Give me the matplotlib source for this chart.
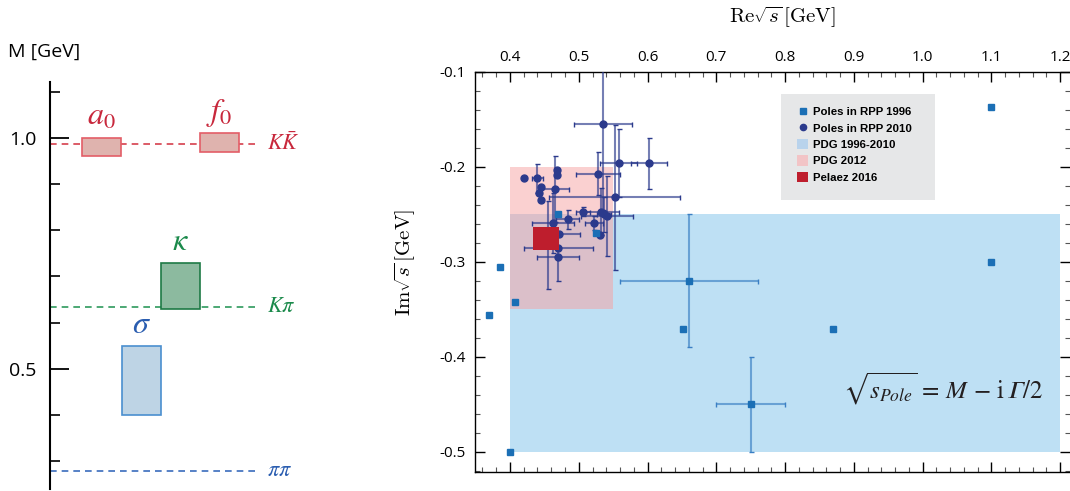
import matplotlib
matplotlib.use("Agg")
import matplotlib.pyplot as plt
from matplotlib.patches import Rectangle, Patch
from matplotlib.lines import Line2D
from matplotlib.ticker import MultipleLocator, FormatStrFormatter

plt.rcParams["font.family"] = ["Open Sans", "DejaVu Sans"]
plt.rcParams["axes.unicode_minus"] = False

# ---- left panel: light scalar nonet masses ----
res_names = [r"$a_0$", r"$f_0$", r"$\kappa$", r"$\sigma$"]
res_m_lo = [0.96, 0.97, 0.63, 0.40]
res_m_hi = [1.00, 1.01, 0.73, 0.55]
thr_names = [r"$K\bar{K}$", r"$K\pi$", r"$\pi\pi$"]
thr_mass = [0.987, 0.634, 0.279]

# ---- right panel: sigma pole positions ----
rpp96_re = [0.370, 0.386, 0.408, 0.400, 0.470, 0.525, 0.651, 0.870, 1.100, 1.100, 0.660, 0.750]
rpp96_im = [-0.356, -0.305, -0.342, -0.500, -0.250, -0.269, -0.371, -0.371, -0.300, -0.137, -0.320, -0.450]
rpp96_dre = [0, 0, 0, 0, 0, 0, 0, 0, 0, 0, 0.10, 0.05]
rpp96_dim = [0, 0, 0, 0, 0, 0, 0, 0, 0, 0, 0.07, 0.05]

rpp10_re = [0.420, 0.440, 0.469, 0.469, 0.4655, 0.445, 0.442, 0.445, 0.535, 0.558, 0.602,
            0.528, 0.552, 0.506, 0.484, 0.4626, 0.472, 0.470, 0.470, 0.455, 0.5227,
            0.531, 0.533, 0.537, 0.541]
rpp10_im = [-0.212, -0.212, -0.203, -0.208, -0.223, -0.221, -0.227, -0.235, -0.155, -0.196, -0.196,
            -0.207, -0.232, -0.247, -0.255, -0.259, -0.271, -0.295, -0.285, -0.282, -0.259,
            -0.272, -0.247, -0.250, -0.252]
rpp10_dre = [0, 0.008, 0, 0, 0.02, 0, 0, 0, 0.042, 0.027, 0.026,
             0.032, 0.095, 0.01, 0.0165, 0.03, 0.03, 0.03, 0.05, 0, 0.013,
             0, 0.025, 0.01, 0.038]
rpp10_dim = [0, 0.015, 0, 0, 0.035, 0, 0, 0, 0.09, 0.036, 0.027,
             0.023, 0.076, 0.005, 0.01, 0.032, 0, 0.025, 0, 0.046, 0.007,
             0, 0.025, 0.018, 0.042]

pdg_old = (0.40, 1.20, -0.50, -0.25)   # re_lo, re_hi, im_lo, im_hi
pdg_2012 = (0.40, 0.55, -0.35, -0.20)
pelaez_2016 = (0.433, 0.471, -0.287, -0.263)

legend_labels = ["Poles in RPP 1996", "Poles in RPP 2010", "PDG 1996-2010", "PDG 2012", "Pelaez 2016"]

c96 = "#1b6fb5"
c10 = "#2b3a8c"
c_blue = "#bee0f4"
c_pink = "#fad0d0"
c_mix = "#dbbfc9"
c_red = "#be1e2d"

W, H = 1070, 491
fig = plt.figure(figsize=(W / 100, H / 100), dpi=100)

# left panel
ax1 = fig.add_axes([50 / W, 2 / H, 350 / W, 407 / H])
ax1.set_xlim(0, 350)
ax1.set_ylim(0.240, 1.121)
for s in ["top", "right", "bottom"]:
    ax1.spines[s].set_visible(False)
ax1.spines["left"].set_linewidth(1.5)
ax1.set_xticks([])
ax1.yaxis.set_major_locator(MultipleLocator(0.5))
ax1.yaxis.set_minor_locator(MultipleLocator(0.1))
ax1.yaxis.set_major_formatter(FormatStrFormatter("%.1f"))
ax1.tick_params(axis="y", which="major", direction="in", length=13.5, width=1.3, labelsize=14, pad=10)
ax1.tick_params(axis="y", which="minor", direction="in", length=7, width=1.2)

box_x = [32, 150, 111, 72]
box_w = 39
box_face = ["#dfb3ae", "#dfb3ae", "#8cba9f", "#bed4e5"]
box_edge = ["#e35d67", "#e35d67", "#1e7a45", "#4a8fcf"]
lab_col = ["#c8283c", "#c8283c", "#1b8a4b", "#2a5db0"]
for i in range(len(res_names)):
    ax1.add_patch(Rectangle((box_x[i], res_m_lo[i]), box_w, res_m_hi[i] - res_m_lo[i],
                            facecolor=box_face[i], edgecolor=box_edge[i], lw=1.2, zorder=3))
    ax1.text(box_x[i] + box_w / 2, res_m_hi[i] + 0.028, res_names[i], color=lab_col[i],
             fontsize=23, ha="center", va="baseline", math_fontfamily="stix")

thr_col = ["#d6404d", "#2e9a5c", "#3a6cbc"]
thr_txt = ["#c8283c", "#1b8a4b", "#2a5db0"]
for i in range(len(thr_names)):
    ax1.plot([0, 207], [thr_mass[i]] * 2, color=thr_col[i], lw=1.2, ls=(0, (4, 3)), zorder=2)
    ax1.text(217, thr_mass[i], thr_names[i], color=thr_txt[i], fontsize=16,
             ha="left", va="center", math_fontfamily="stix")

fig.text(8 / W, 1 - 52 / H, "M [GeV]", fontsize=14, ha="left", va="center")

# right panel
ax2 = fig.add_axes([475 / W, 19 / H, 595 / W, 400 / H])
ax2.set_xlim(0.3491, 1.2145)
ax2.set_ylim(-0.5211, -0.1)
ax2.spines["right"].set_visible(False)
for s in ["top", "bottom", "left"]:
    ax2.spines[s].set_linewidth(1.0)
ax2.xaxis.set_major_locator(MultipleLocator(0.1))
ax2.xaxis.set_minor_locator(MultipleLocator(0.02))
ax2.yaxis.set_major_locator(MultipleLocator(0.1))
ax2.yaxis.set_minor_locator(MultipleLocator(0.02))
ax2.xaxis.set_major_formatter(FormatStrFormatter("%.1f"))
ax2.yaxis.set_major_formatter(FormatStrFormatter("%.1f"))
ax2.tick_params(which="both", direction="in", top=True, bottom=True, left=True, right=True,
                labeltop=True, labelbottom=False, labelsize=11)
ax2.tick_params(which="major", length=7, width=1.0)
ax2.tick_params(which="minor", length=3.5, width=0.8, color="#555555")
ax2.tick_params(axis="x", pad=5)
ax2.tick_params(axis="y", pad=7)

def region(r, color, z):
    ax2.add_patch(Rectangle((r[0], r[2]), r[1] - r[0], r[3] - r[2], facecolor=color,
                            edgecolor="none", zorder=z))

region(pdg_old, c_blue, 1)
region(pdg_2012, c_pink, 1.1)
overlap = (max(pdg_old[0], pdg_2012[0]), min(pdg_old[1], pdg_2012[1]),
           max(pdg_old[2], pdg_2012[2]), min(pdg_old[3], pdg_2012[3]))
region(overlap, c_mix, 1.2)

ax2.errorbar(rpp10_re, rpp10_im, xerr=rpp10_dre, yerr=rpp10_dim, fmt="o", ms=5,
             color=c10, ecolor=c10, elinewidth=1.5, capsize=1.8, capthick=1.0, zorder=3)
ax2.errorbar(rpp96_re, rpp96_im, xerr=rpp96_dre, yerr=rpp96_dim, fmt="s", ms=4.2,
             color=c96, ecolor="#3a7fc4", elinewidth=1.5, capsize=1.8, capthick=1.0, zorder=3.5)
for coll in ax2.collections:
    coll.set_alpha(0.65)

region(pelaez_2016, c_red, 4)

# legend box
ax2.add_patch(Rectangle((0.794, -0.235), 0.224, 0.112, facecolor="#e6e7e8",
                        edgecolor="none", zorder=5))
handles = [Line2D([], [], ls="none", marker="s", ms=4, color=c96),
           Line2D([], [], ls="none", marker="o", ms=4.5, color=c10),
           Patch(facecolor="#b9d3ec"), Patch(facecolor="#f2c4c6"), Patch(facecolor=c_red)]
leg = ax2.legend(handles, legend_labels, loc="upper left", bbox_to_anchor=(0.541, 0.914),
                 frameon=False, borderpad=0, borderaxespad=0, handlelength=1.0,
                 handleheight=1.0, handletextpad=0.4, labelspacing=0.47,
                 prop={"family": "Liberation Sans", "weight": "bold", "size": 8.2})
leg.set_zorder(6)

ax2.text(0.884, -0.433, "$\\sqrt{s_{Pole}}\\,=\\,M\\,-\\,\\mathrm{i}\\,\U0001D6E4/2$", fontsize=18,
         ha="left", va="center", color="#231f20", math_fontfamily="stix", zorder=6)

fig.text(782 / W, 1 - 17 / H, r"$\mathrm{Re}\sqrt{s}\,[\mathrm{GeV}]$", fontsize=15,
         ha="center", va="center", math_fontfamily="cm")
fig.text(405 / W, 1 - 262 / H, r"$\mathrm{Im}\sqrt{s}\,[\mathrm{GeV}]$", fontsize=15,
         ha="center", va="center", rotation=90, math_fontfamily="cm")

fig.savefig("out.png", dpi=100)
